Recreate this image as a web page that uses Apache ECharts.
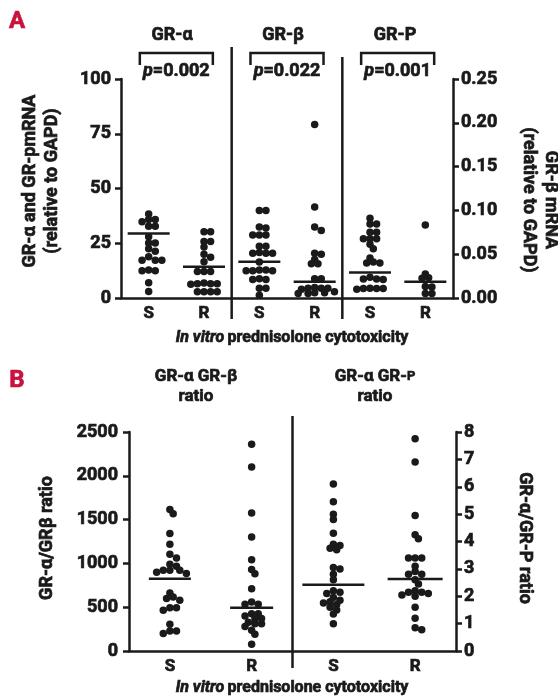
<!DOCTYPE html>
<html><head><meta charset="utf-8">
<script src="https://cdn.jsdelivr.net/npm/echarts@6/dist/echarts.min.js"></script>
<style>html,body{margin:0;padding:0;background:#fff}#c{width:558px;height:699px}</style>
</head><body><div id="c"></div>
<script>
// ---------- data ----------
const groupsA = ['GR-α', 'GR-β', 'GR-P'];
const pValuesA = ['0.002', '0.022', '0.001'];
const categories = ['S', 'R'];
const grAlphaS = [38.4, 35.8, 35.8, 34.8, 32.8, 32.8, 28, 25.1, 25.1, 22.5, 21.3, 18.8, 17.2, 17.2, 17.2, 12.8, 12.5, 12.5, 7, 3];
const grAlphaR = [30.3, 30.3, 25.8, 25.8, 23.3, 20, 18.6, 16.6, 12.1, 12.1, 12.1, 6.8, 6.5, 6.5, 6.5, 6.3, 2.9, 2.9, 2.9, 2.9];
const grBetaS = [0.100, 0.100, 0.081, 0.080, 0.072, 0.072, 0.072, 0.059, 0.059, 0.052, 0.051, 0.051, 0.051, 0.041, 0.032, 0.031, 0.031, 0.032, 0.031, 0.022, 0.021, 0.021, 0.011, 0.011, 0.003];
const grBetaR = [0.198, 0.104, 0.081, 0.077, 0.051, 0.050, 0.044, 0.039, 0.039, 0.022, 0.022, 0.012, 0.011, 0.011, 0.011, 0.010, 0.007, 0.006, 0.006, 0.005, 0.005];
const grPS = [36.4, 33.8, 33.8, 30, 30, 27, 27, 27, 24.5, 22.5, 18.3, 16.4, 16, 16, 9.5, 8.7, 8.7, 8.5, 4.5, 4.3, 4.3, 4.3, 4];
const grPR = [33.3, 11, 9.2, 9, 5.3, 5, 2, 2];
const mediansA = [29.5, 14.3, 0.0413, 0.0185, 11.6, 7.4];

const groupsB = ['GR-α GR-β', 'GR-α GR-P'];
const ratioAB_S = [1614, 1568, 1340, 1218, 1104, 1062, 990, 967, 921, 921, 921, 900, 884, 662, 616, 600, 579, 495, 495, 465, 305, 228, 228, 199];
const ratioAB_R = [2359, 2100, 1575, 1301, 1043, 929, 883, 712, 559, 533, 533, 425, 425, 400, 370, 370, 328, 310, 310, 280, 236, 191, 76];
const ratioAP_S = [6.1, 5.45, 5.0, 4.8, 4.3, 3.9, 3.85, 3.75, 3.7, 3.05, 3.0, 2.8, 2.6, 2.2, 2.15, 2.1, 1.95, 1.85, 1.8, 1.75, 1.7, 1.6, 1.5, 1.35, 1.0];
const ratioAP_R = [7.75, 6.9, 4.95, 4.25, 4.1, 3.4, 3.4, 3.4, 3.1, 2.9, 2.8, 2.8, 2.6, 2.45, 2.2, 2.15, 2.15, 2.1, 2.05, 2.0, 1.6, 1.2, 0.85, 0.78];
const mediansB = [826, 495, 2.42, 2.63];

// ---------- layout / style ----------
const INK = '#1a1a1a';
const RED = '#c8133f';
const FONT = "Roboto,'Liberation Sans',sans-serif";
const FW = 'bold';
const HEAVY = {textBorderColor: INK, textBorderWidth: 0.7};
const GA = {left: 121, top: 79, width: 332, height: 219};
const GB = {left: 129, top: 432, width: 327, height: 219};
const LW = 2.5;
const DOT = 7.5;

// simple beeswarm: horizontal offsets (px) so that dots do not pile up
function swarm(vals, pxPerY) {
  const step = 3.3, minD = 5.0;
  const order = vals.map((v, i) => i).sort((a, b) => vals[b] - vals[a]);
  const placed = [];
  const off = new Array(vals.length).fill(0);
  for (const i of order) {
    const y = vals[i] * pxPerY;
    for (let k = 0; k < 40; k++) {
      const c = k === 0 ? 0 : (k % 2 ? Math.ceil(k / 2) : -Math.ceil(k / 2)) * step;
      if (placed.every(p => Math.hypot(p.x - c, p.y - y) >= minD)) {
        off[i] = c; placed.push({x: c, y}); break;
      }
    }
  }
  return off;
}

const series = [];
function addColumn(vals, center, xAxisIndex, yAxisIndex, pxPerX, pxPerY, median, halfW) {
  const offs = swarm(vals, pxPerY);
  series.push({
    type: 'scatter', xAxisIndex, yAxisIndex, symbolSize: DOT, silent: true,
    itemStyle: {color: INK, opacity: 1},
    data: vals.map((v, i) => [center + offs[i] / pxPerX, v])
  });
  series.push({
    type: 'line', xAxisIndex, yAxisIndex, symbol: 'none', silent: true,
    lineStyle: {color: INK, width: LW},
    data: [[center - halfW / pxPerX, median], [center + halfW / pxPerX, median]]
  });
}

const pxA = GA.width / 6, pxB = GB.width / 4;
const colsA = [grAlphaS, grAlphaR, grBetaS, grBetaR, grPS, grPR];
const axisA = [0, 0, 1, 1, 0, 0];
const maxA = [100, 0.25];
colsA.forEach((vals, i) => {
  const ya = axisA[i];
  addColumn(vals, i + 0.5, 0, ya, pxA, GA.height / maxA[ya], mediansA[i], 21);
});
const colsB = [ratioAB_S, ratioAB_R, ratioAP_S, ratioAP_R];
const axisB = [2, 2, 3, 3];
const maxB = {2: 2500, 3: 8};
const halfB = [21, 21.5, 31, 27.5];
colsB.forEach((vals, i) => {
  const ya = axisB[i];
  addColumn(vals, i + 0.5, 1, ya, pxB, GB.height / maxB[ya], mediansB[i], halfB[i]);
});

function yAxis(gridIndex, max, interval, position, fmt, margin) {
  return {
    type: 'value', gridIndex, min: 0, max, interval, position,
    axisLine: {show: true, lineStyle: {color: INK, width: LW}},
    axisTick: {show: true, length: 6, lineStyle: {color: INK, width: LW}},
    splitLine: {show: false},
    axisLabel: Object.assign({color: INK, fontFamily: FONT, fontWeight: FW, fontSize: 18, margin, formatter: fmt}, HEAVY)
  };
}
function xAxis(gridIndex, n) {
  return {
    type: 'value', gridIndex, min: 0, max: n, interval: 0.5,
    axisLine: {show: true, onZero: false, lineStyle: {color: INK, width: LW}},
    axisTick: {show: false}, splitLine: {show: false},
    axisLabel: Object.assign({
      color: INK, fontFamily: FONT, fontWeight: FW, fontSize: 17, margin: 7,
      showMinLabel: true, showMaxLabel: true,
      formatter: v => { const k = Math.round(v * 2); return k % 2 === 1 ? categories[((k - 1) / 2) % 2] : ''; }
    }, HEAVY)
  };
}

const option = {
  animation: false,
  backgroundColor: '#fff',
  grid: [GA, GB].map(g => Object.assign({containLabel: false}, g)),
  xAxis: [xAxis(0, 6), xAxis(1, 4)],
  yAxis: [
    yAxis(0, 100, 25, 'left', v => String(v), 10),
    yAxis(0, 0.25, 0.05, 'right', v => v.toFixed(2), 8),
    yAxis(1, 2500, 500, 'left', v => String(v), 11),
    yAxis(1, 8, 1, 'right', v => String(v), 8)
  ],
  series
};

const chart = echarts.init(document.getElementById('c'), null, {renderer: 'canvas'});
chart.setOption(option);

// ---------- annotations ----------
const px = (xi, yi, x, y) => chart.convertToPixel({xAxisIndex: xi, yAxisIndex: yi}, [x, y]);
const g = [];
const txt = (x, y, text, size, extra) => {
  const fill = (extra && extra.style && extra.style.fill) || INK;
  return Object.assign({
    type: 'text', x, y, silent: true,
    style: Object.assign({text, fill, font: `${FW} ${size}px ${FONT}`, align: 'center', verticalAlign: 'middle', stroke: fill, lineWidth: 0.7}, extra && extra.style || {})
  }, extra && extra.el || {});
};
const rs = (font) => ({font, fill: INK, stroke: INK, lineWidth: 0.7});

// panel letters
g.push(txt(17, 22, 'A', 24, {style: {fill: RED}}));
g.push(txt(17, 381, 'B', 24, {style: {fill: RED}}));

// panel A separators
const sepTopA = [47, 57];
[2, 4].forEach((xv, i) => {
  const x = px(0, 0, xv, 0)[0];
  g.push({type: 'line', silent: true, shape: {x1: x, y1: sepTopA[i], x2: x, y2: 319}, style: {stroke: INK, lineWidth: LW}});
});
// panel A headers, brackets, p values
const headX = [172, 283, 395];
groupsA.forEach((name, i) => {
  g.push(txt(headX[i], 35, name, 18));
  const xl = px(0, 0, i * 2 + 0.34, 0)[0];
  const xr = px(0, 0, i * 2 + 1.66, 0)[0];
  g.push({type: 'polyline', silent: true, shape: {points: [[xl, 65], [xl, 53], [xr, 53], [xr, 65]]}, style: {stroke: INK, lineWidth: LW, fill: null}});
  g.push({
    type: 'text', x: (xl + xr) / 2, y: 71, silent: true,
    style: {
      text: '{i|p}{n|=' + pValuesA[i] + '}', align: 'center', verticalAlign: 'middle',
      rich: {i: rs(`italic ${FW} 18px ${FONT}`), n: rs(`${FW} 18px ${FONT}`)}
    }
  });
});
// panel A axis titles
g.push(txt(41, 181, 'GR-α and GR-pmRNA\n(relative to GAPD)', 18, {el: {rotation: Math.PI / 2}, style: {lineHeight: 22}}));
g.push(txt(539, 200, 'GR-β mRNA\n(relative to GAPD)', 18, {el: {rotation: -Math.PI / 2}, style: {lineHeight: 22}}));

function subtitle(x, y) {
  return {
    type: 'text', x, y, silent: true,
    style: {
      text: '{i|In vitro} {n|prednisolone cytotoxicity}', align: 'center', verticalAlign: 'middle',
      rich: {i: rs(`italic ${FW} 16px ${FONT}`), n: rs(`${FW} 16px ${FONT}`)}
    }
  };
}
g.push(subtitle(292, 338));

// panel B
const xsB = px(1, 2, 2, 0)[0];
g.push({type: 'line', silent: true, shape: {x1: xsB, y1: 416, x2: xsB, y2: 668}, style: {stroke: INK, lineWidth: LW}});
g.push({
  type: 'text', x: 196, y: 387, silent: true,
  style: {text: '{h|GR-α GR-β}\n{h|ratio}', align: 'center', verticalAlign: 'middle',
    rich: {h: Object.assign(rs(`${FW} 17px ${FONT}`), {lineHeight: 20})}}
});
g.push({
  type: 'text', x: 375, y: 387, silent: true,
  style: {text: '{h|GR-α GR-}{s|P}\n{h|ratio}', align: 'center', verticalAlign: 'middle',
    rich: {h: Object.assign(rs(`${FW} 17px ${FONT}`), {lineHeight: 20}), s: Object.assign(rs(`${FW} 13px ${FONT}`), {lineHeight: 20})}}
});
g.push(txt(47, 538, 'GR-α/GRβ ratio', 18, {el: {rotation: Math.PI / 2}}));
g.push(txt(524, 538, 'GR-α/GR-P ratio', 18, {el: {rotation: -Math.PI / 2}}));
g.push(subtitle(292, 688));

chart.setOption({graphic: g});
</script></body></html>
